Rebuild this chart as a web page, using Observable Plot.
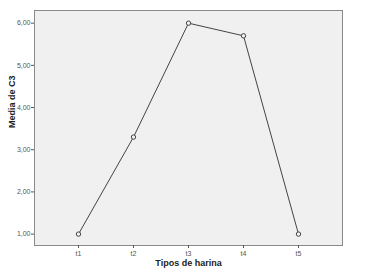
<!DOCTYPE html>
<html><head><meta charset="utf-8">
<script src="https://cdn.jsdelivr.net/npm/d3@7"></script>
<script src="https://cdn.jsdelivr.net/npm/@observablehq/plot@0.6"></script>
<style>
body{margin:0;background:#fff;}
svg{font-family:"Liberation Sans",Arial,sans-serif;}
</style></head>
<body><div id="chart"></div>
<script>
const categories = ["t1","t2","t3","t4","t5"];
const values = [1.0, 3.3, 6.0, 5.7, 1.0];
const yTicks = [1,2,3,4,5,6];
const data = categories.map((c,i)=>({tipo:c, media:values[i]}));
const fmt = v => d3.format(".2f")(v).replace(".", ",");
const chart = Plot.plot({
  width:370, height:276,
  marginLeft:34, marginTop:10, marginRight:28, marginBottom:31,
  style:{background:"#fff", fontSize:"7px", color:"#555"},
  x:{type:"point", domain:categories, padding:0.775, label:null},
  y:{domain:[0.73,6.3], label:null},
  marks:[
    Plot.frame({fill:"#f0f0f0", stroke:"#8a8a8a", strokeWidth:1}),
    Plot.axisX({tickSize:3, tickPadding:3, fontSize:7, stroke:"#555", fill:"#555"}),
    Plot.axisY({ticks:yTicks, tickFormat:fmt, tickSize:3, tickPadding:1, fontSize:7, stroke:"#555", fill:"#555"}),
    Plot.line(data,{x:"tipo", y:"media", stroke:"#444", strokeWidth:1}),
    Plot.dot(data,{x:"tipo", y:"media", r:2.2, stroke:"#444", fill:"#f0f0f0", strokeWidth:1}),
    Plot.text(["Tipos de harina"],{frameAnchor:"bottom", dy:20, fontWeight:"bold", fontSize:9, fill:"#222"}),
    Plot.text(["Media de C3"],{frameAnchor:"left", dx:-22, rotate:-90, fontWeight:"bold", fontSize:9, fill:"#222"})
  ]
});
document.getElementById("chart").appendChild(chart);
</script></body></html>
